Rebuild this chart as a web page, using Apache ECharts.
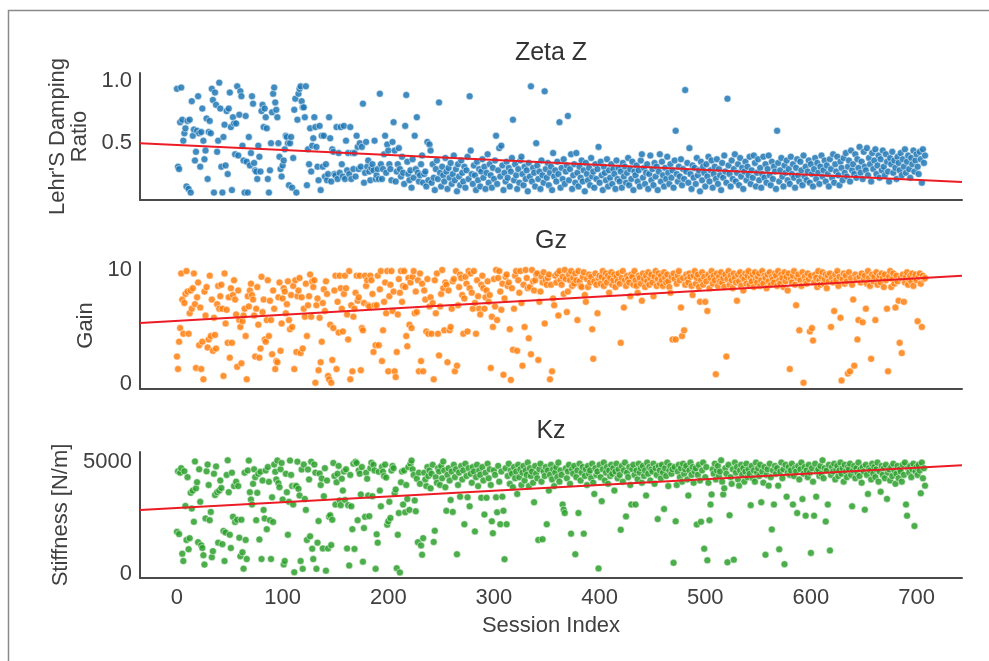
<!DOCTYPE html>
<html>
<head>
<meta charset="utf-8">
<title>Zeta Z / Gz / Kz</title>
<script src="https://cdn.jsdelivr.net/npm/echarts@6/dist/echarts.min.js"></script>
<style>
  html, body { margin: 0; padding: 0; background: #fff; }
  #chart { width: 989px; height: 661px; }
</style>
</head>
<body>
<div id="chart"></div>
<script>
// one value per session, the index in the array is the session index
const zetaValues = [
  .94,.31,.29,.67,.95,.69,.52,.58,.62,.15, .68,.13,.69,.10,.84,.56,.61,.36,.43,.60,
  .88,.58,.31,.59,.78,.52,.37,.44,.70,.21, .59,.68,.58,.94,.85,.10,.91,.81,.43,.52,
  .99,.78,.31,.10,.55,.65,.32,.76,.25,.78, .91,.63,.12,.71,.66,.41,.66,.96,.40,.73,
  .92,.88,.48,.36,.10,.72,.35,.10,.55,.32, .42,.88,.82,.34,.28,.27,.21,.48,.39,.27,
  .76,.81,.63,.78,.71,.62,.21,.10,.28,.50, .75,.90,.95,.83,.77,.71,.50,.39,.29,.23,
  .32,.36,.45,.56,.55,.50,.16,.50,.55,.14, .38,.77,.86,.10,.69,.90,.94,.96,.84,.79,
  .79,.71,.96,.16,.45,.33,.62,.27,.48,.54, .71,.63,.47,.31,.20,.64,.12,.56,.31,.56,
  .23,.33,.20,.25,.71,.54,.19,.45,.43,.25, .24,.63,.21,.42,.26,.63,.33,.23,.64,.21,
  .52,.28,.42,.25,.63,.21,.42,.29,.42,.23, .56,.47,.29,.50,.31,.47,.82,.18,.26,.51,
  .31,.36,.27,.20,.30,.33,.28,.52,.21,.24, .29,.21,.90,.33,.21,.29,.41,.56,.26,.49,
  .44,.33,.29,.20,.51,.67,.44,.19,.27,.33, .46,.29,.23,.39,.26,.17,.64,.89,.35,.25,
  .20,.28,.14,.37,.22,.56,.29,.71,.26,.19, .24,.33,.40,.18,.25,.27,.15,.51,.20,.49,
  .44,.18,.33,.22,.12,.29,.36,.21,.83,.26, .15,.31,.24,.19,.38,.27,.13,.30,.22,.34,
  .17,.25,.40,.20,.29,.11,.33,.23,.16,.36, .26,.19,.31,.14,.28,.39,.21,.88,.44,.25,
  .17,.32,.24,.12,.35,.20,.29,.15,.27,.37, .22,.31,.13,.26,.41,.18,.33,.24,.14,.30,
  .21,.36,.56,.17,.28,.46,.23,.48,.32,.12, .26,.19,.35,.22,.30,.15,.27,.38,.69,.20,
  .33,.24,.13,.29,.18,.36,.39,.25,.16,.31, .21,.28,.11,.34,.23,.96,.19,.30,.26,.15,
  .50,.32,.21,.27,.13,.36,.24,.18,.92,.29, .22,.34,.16,.26,.31,.12,.42,.23,.28,.19,
  .35,.25,.67,.14,.30,.21,.37,.17,.27,.32, .72,.20,.29,.41,.13,.24,.33,.18,.42,.26,
  .15,.31,.22,.36,.19,.28,.11,.34,.25,.20, .30,.16,.38,.23,.27,.14,.33,.21,.29,.47,
  .18,.35,.24,.12,.31,.26,.20,.37,.15,.28, .22,.33,.17,.29,.25,.13,.36,.21,.30,.19,
  .27,.14,.34,.23,.31,.18,.26,.38,.16,.29, .21,.35,.12,.27,.24,.32,.19,.28,.15,.36,
  .41,.22,.30,.17,.26,.33,.13,.25,.40,.20, .29,.16,.34,.23,.31,.12,.27,.41,.19,.35,
  .24,.15,.30,.21,.39,.26,.17,.33,.22,.28, .14,.36,.60,.25,.19,.31,.23,.37,.16,.29,
  .21,.93,.27,.34,.18,.46,.25,.13,.32,.22, .30,.17,.38,.24,.28,.11,.35,.20,.31,.26,
  .15,.33,.23,.39,.19,.28,.36,.14,.25,.31, .21,.37,.17,.29,.24,.12,.34,.22,.40,.27,
  .18,.86,.32,.25,.15,.36,.21,.29,.41,.19, .26,.33,.16,.38,.23,.30,.13,.27,.35,.20,
  .31,.24,.39,.17,.28,.22,.40,.34,.15,.26, .37,.20,.30,.14,.25,.39,.22,.33,.18,.29,
  .40,.24,.16,.35,.21,.31,.27,.13,.60,.34, .19,.28,.38,.23,.15,.32,.26,.36,.20,.29,
  .17,.39,.25,.33,.22,.14,.30,.37,.24,.19, .35,.28,.16,.40,.23,.31,.20,.27,.36,.18,
  .33,.25,.15,.29,.38,.21,.34,.26,.17,.31, .40,.23,.28,.36,.19,.32,.25,.15,.37,.29,
  .22,.41,.18,.33,.27,.39,.24,.16,.35,.30, .20,.38,.26,.42,.23,.31,.36,.19,.44,.28,
  .33,.25,.41,.22,.37,.30,.47,.26,.35,.21, .43,.31,.28,.46,.24,.38,.33,.19,.42,.29,
  .36,.45,.25,.32,.40,.22,.37,.28,.44,.31, .24,.41,.35,.27,.19,.38,.33,.43,.26,.36,
  .30,.21,.39,.34,.28,.42,.24,.37,.31,.45, .26,.35,.40,.29,.22,.38,.33,.44,.27,.36,
  .41,.31,.25,.43,.37,.18,.45,.34,.40
];

const gainValues = [
  2.4,1.3,3.7,4.9,9.7,7.4,4.4,7.1,7.9,9.9, 8.1,4.4,6.2,8.2,6.6,8.4,9.7,7.0,1.4,7.6,
  8.9,3.4,6.7,1.3,3.7,0.4,8.1,6.0,8.5,3.2, 3.9,9.5,4.2,7.4,2.9,5.8,4.3,3.1,7.0,8.6,
  6.6,7.7,8.7,6.6,0.7,9.7,5.3,6.5,3.6,7.6, 2.3,8.4,3.6,7.8,9.1,7.4,6.1,1.5,8.2,5.6,
  5.0,1.8,5.5,6.0,6.6,4.2,0.4,7.7,6.8,8.2, 8.8,7.8,7.4,6.0,2.4,6.6,8.5,5.2,2.3,3.1,
  9.4,6.3,7.4,3.9,3.7,5.6,9.1,4.2,7.3,5.6, 2.6,8.2,6.6,1.3,2.0,1.9,7.6,8.9,2.9,5.3,
  7.5,8.4,8.1,6.2,7.0,9.0,5.6,4.8,7.8,5.0, 8.6,1.3,9.1,2.8,7.7,8.2,9.3,2.7,7.6,3.1,
  6.6,5.9,8.8,4.2,6.9,7.7,9.6,5.9,9.0,8.5, 9.1,0.1,6.9,7.5,1.2,5.8,1.9,3.7,7.1,8.3,
  6.4,9.0,7.9,0.7,0.4,5.2,0.1,2.1,4.9,8.2, 9.5,1.3,7.2,4.5,9.5,8.4,6.6,4.6,7.9,9.5,
  8.4,6.1,3.9,9.9,0.4,6.9,1.1,5.9,6.6,8.0, 9.5,7.3,7.6,9.5,1.2,4.9,4.7,7.1,9.5,8.6,
  9.1,6.9,6.8,9.5,9.1,7.9,2.8,6.9,3.4,6.9, 9.5,3.4,8.3,9.9,2.0,4.7,7.2,8.9,6.2,9.9,
  1.1,7.7,8.7,9.9,6.4,8.1,1.1,0.6,2.8,6.1, 9.2,8.0,9.9,7.2,8.6,9.9,8.5,4.2,3.3,9.3,
  5.2,8.9,4.9,9.4,9.9,6.2,8.1,6.3,9.1,1.1, 9.7,2.0,8.8,1.1,8.2,7.4,4.6,9.2,4.4,6.8,
  7.6,4.4,7.1,0.4,9.1,6.2,9.7,4.4,2.5,6.8, 7.9,10.0,8.4,4.7,8.9,8.7,1.9,8.2,4.7,5.0,
  6.6,9.0,9.2,1.1,9.9,1.6,6.9,8.5,9.6,9.3, 7.8,4.4,7.5,9.4,8.8,4.6,9.9,8.4,9.7,8.0,
  6.6,9.9,7.1,4.4,9.1,7.7,6.6,6.1,8.7,9.5, 8.4,6.6,7.6,8.2,9.0,7.2,7.8,1.4,5.9,5.0,
  9.2,6.8,10.0,5.6,9.3,9.9,8.1,6.5,8.8,0.8, 7.5,9.4,9.6,8.6,8.9,4.8,0.35,8.4,3.0,6.6,
  9.5,9.9,2.9,9.1,8.0,9.9,7.1,1.6,8.7,5.0, 10.0,9.3,8.4,4.0,8.5,2.6,10.0,9.0,8.2,9.1,
  9.6,9.7,2.1,7.2,8.1,9.4,8.9,9.8,5.3,9.1, 8.7,9.3,9.6,0.4,8.7,1.1,7.5,6.9,9.5,8.9,
  9.7,6.0,9.9,9.1,8.7,9.4,7.9,10.0,9.2,6.3, 8.1,9.6,9.1,9.9,8.6,9.3,8.8,9.7,9.1,5.6,
  9.9,9.0,8.6,8.5,9.4,9.8,7.8,7.2,9.2,8.5, 9.6,8.9,9.4,4.8,2.2,9.0,9.7,8.7,6.2,9.3,
  9.5,8.8,9.4,9.9,8.6,9.2,9.7,8.9,9.5,8.0, 9.3,9.8,8.7,9.1,9.6,8.5,9.4,9.0,9.7,8.8,
  3.6,9.3,9.9,6.7,9.1,8.6,9.5,9.2,8.9,7.7, 9.6,9.4,8.7,9.9,9.1,8.6,8.0,9.5,9.3,8.8,
  7.3,9.7,9.2,8.5,9.5,9.0,9.8,8.7,9.3,9.6, 8.9,7.7,9.4,9.9,8.6,9.2,9.7,8.8,9.5,9.1,
  8.6,9.8,9.3,8.9,9.6,9.0,8.5,8.0,9.4,3.9, 9.7,9.2,3.9,8.8,9.5,9.9,9.1,6.7,4.2,9.3,
  4.7,8.7,9.6,9.2,8.9,9.7,9.4,8.6,7.8,9.5, 9.9,8.8,9.3,9.6,8.5,7.2,9.1,9.8,8.7,9.4,
  7.2,9.0,6.4,9.6,8.4,9.3,9.9,8.8,9.5,9.1, 0.85,9.7,8.6,9.4,9.0,9.8,8.9,9.3,8.5,9.6,
  2.4,9.2,9.9,8.7,9.5,9.1,8.4,9.7,9.3,8.9, 7.3,9.6,9.0,9.8,8.6,9.4,8.2,9.2,9.7,8.8,
  9.5,9.9,8.7,9.3,9.0,9.6,8.5,9.8,9.2,8.9, 9.4,9.7,8.6,9.1,9.9,8.8,9.5,9.3,8.4,9.6,
  9.0,9.8,8.7,9.4,9.2,8.9,9.7,9.5,8.6,9.9, 9.1,8.8,9.6,9.3,8.5,9.8,9.0,9.4,8.2,9.7,
  1.3,9.2,8.9,9.5,9.9,8.7,6.9,9.3,9.6,4.7, 9.1,8.6,9.8,0.1,9.4,9.0,8.8,9.7,9.2,4.6,
  9.5,4.9,3.8,8.9,9.6,9.3,8.5,9.9,9.1,8.7, 9.4,9.8,8.8,9.2,9.6,8.4,9.5,9.0,9.7,5.0,
  9.3,8.9,6.4,9.6,9.1,9.9,8.6,9.4,5.8,0.3, 9.2,9.7,8.8,9.5,9.0,0.9,9.8,1.1,9.3,8.7,
  7.4,1.6,9.6,9.2,3.9,5.6,9.4,8.9,9.7,5.4, 9.1,9.5,6.6,8.8,9.9,9.3,8.6,2.2,9.6,9.0,
  9.4,5.6,9.8,8.7,9.2,9.5,8.9,9.7,9.3,8.5, 9.6,9.1,6.6,1.1,9.4,9.9,8.5,9.2,9.7,8.8,
  6.7,9.5,9.0,7.3,3.6,9.3,2.7,9.6,7.2,8.9, 9.4,9.8,8.7,9.2,9.5,9.0,9.7,8.6,9.3,9.6,
  9.1,5.5,9.4,9.7,8.8,5.0,9.5,9.2,9.3
];

const stiffnessValues = [
  1860,4560,1760,4500,4700,887,560,4563,3018,1500, 4300,1085,1577,3600,2900,3700,2310,5000,3800,4074,
  1400,4650,3200,1260,1140,820,400,2460,4560,4860, 3950,2380,2750,730,1000,4450,3500,4780,3630,1380,
  3700,4150,3820,1310,1900,560,1830,4400,5050,3630, 1730,1140,4500,2530,3900,2300,4100,2400,3900,1600,
  770,2400,950,220,4500,1500,650,4600,5040,3630, 3300,3080,4000,4650,4300,2380,3600,4450,1520,4540,
  650,4150,2840,2460,4600,1980,4750,4090,2380,650, 3400,2300,4860,4540,4200,5040,4030,3850,4650,4930,
  3300,410,560,4450,3630,1730,3200,5040,4400,3900, 3080,60,3900,3900,4990,3780,3480,560,4640,210,
  4860,3330,2840,1500,4640,4200,1660,4990,1110,650, 4860,4500,210,1380,2340,4460,3950,4240,1120,3450,
  4700,130,4150,1120,2530,2600,1270,2400,4930,4350, 3080,4070,4450,4800,3260,3050,4230,3700,4550,3280,
  4650,1120,3050,360,4400,3000,1980,4900,1100,4990, 4930,2380,4600,4450,3530,4750,530,2030,2530,4500,
  4230,3480,2560,4700,4940,3450,4850,4600,210,1750, 1380,4540,3700,3000,4760,4540,4350,4860,4280,2180,
  2330,3200,2480,4600,4800,4700,3580,3750,240,1730, 2700,50,4070,4550,3080,4600,2730,3950,3330,4750,
  2840,4900,5040,4650,4400,3260,2780,4230,1400,4500, 4000,1250,840,1580,4500,4200,3900,4750,4350,4600,
  3800,4450,4850,1410,1910,4300,4050,4700,4550,3950, 4800,4250,5000,4600,3850,2800,4400,4700,4150,3280,
  4550,2750,4850,4300,4650,860,3950,4500,3430,4800, 4200,4600,2200,4900,4350,3400,4700,3000,4450,4050,
  4750,4550,1880,4300,4850,3900,4600,4400,3380,4750, 4150,2630,4500,3380,4900,4250,4650,3950,2330,1800,
  4600,4400,3400,2730,4800,4100,2200,4550,3430,2800, 640,4700,2200,4350,4900,4000,4600,4450,3850,4750,
  4250,4550,3550,4850,4300,4650,3950,4500,4800,4150, 4600,4400,4950,3900,4700,4350,4550,4050,3180,4800,
  4450,4250,1500,4650,4900,4100,1530,4550,4350,4750, 2200,4600,3700,4400,4850,4200,4650,3900,4500,4750,
  4300,4950,4100,4600,4400,3080,2850,2700,4700,4250, 4550,4850,4000,1780,4650,4450,4800,860,4300,4600,
  2700,4900,4150,4500,4750,1780,4350,4650,3950,4800, 4450,4600,4250,4900,4050,3550,4700,4400,4550,230,
  4850,4300,3230,4650,4950,4150,4500,4750,4000,4600, 4350,4850,4450,4700,3700,4550,4900,4250,4650,4400,
  1950,4800,4100,4600,4950,2550,4500,4300,4750,3950, 3080,4650,4850,4400,3080,4600,4200,4900,4500,4700,
  4050,4800,4350,4600,3480,4950,4450,4750,4150,4650, 4550,4900,4000,4700,4400,2430,4800,4600,4250,4850,
  4500,2880,4700,4350,4950,3900,4600,4800,4450,4650, 480,4750,2330,3950,4550,4850,4300,4700,4100,4900,
  4450,4650,4800,4200,3480,4600,4950,4400,4750,4050, 4550,4700,2190,4400,4850,4150,2310,4600,4950,1110,
  4300,4750,590,4050,2380,3080,3530,4650,4450,4900, 4200,4600,4800,4350,4550,5050,4100,3530,3800,4700,
  4450,500,4850,2600,4300,4000,4650,620,4950,4500, 4750,4200,3920,4600,4850,4400,4700,4100,4550,4900,
  4300,4650,4450,3050,4800,4250,4600,4100,4950,4500, 4700,4350,4850,3180,4550,4050,4750,840,4400,4650,
  3920,4900,4300,1970,4600,3080,4800,4450,4700,3920, 1080,4550,4950,4250,4650,420,4850,3430,4500,4750,
  4400,4600,4900,3080,4350,4700,4550,2700,4800,4200, 4650,4950,3320,4450,4750,2580,4600,4300,4850,4500,
  920,4700,4100,2580,4900,3430,4550,4650,4350,4800, 4450,5050,4250,4700,2320,4600,3080,4850,1030,4400,
  4750,4550,4900,4200,4650,4800,4350,4600,4950,4450, 4700,4100,4850,4550,4300,4750,4650,4900,4400,3000,
  4600,4800,4250,4700,4500,4950,4350,4650,4050,4750, 4550,2850,4850,4400,3550,4700,4600,4200,4900,4450,
  4750,4300,4650,4950,4100,4550,3650,4800,4400,4700, 4250,4850,3330,4500,4650,4150,4750,4350,4900,4600,
  4000,4450,4800,4250,4650,4550,4100,4850,4400,4950, 3080,2580,4700,4500,4800,4300,4650,4900,2120,4550,
  4750,4400,4850,4600,3580,4950,4250,4700,3920
];

// regression lines, read where they meet the left and right edge of each plot
const trendSessions = [-35, 743];
const zetaTrend = [0.50, 0.186];
const gainTrend = [5.35, 9.5];
const stiffnessTrend = [2838, 4833];

// tick labels that are printed
const sessionTicks = [0, 100, 200, 300, 400, 500, 600, 700];
const zetaTicks = [0.5, 1.0];
const gainTicks = [0, 10];
const stiffnessTicks = [0, 5000];

const FONT = 'Liberation Sans, Arial, sans-serif';
const TEXT = '#404040';
const SPINE = '#4a4a4a';

const toPoints = vals => vals.map((v, i) => [i, v]);
const trendPoints = ys => trendSessions.map((x, i) => [x, ys[i]]);
const onlyTicks = (ticks, digits) => v =>
  ticks.some(t => Math.abs(t - v) < 1e-6) ? v.toFixed(digits) : '';

const gridTops = [73, 262, 452];
const gridHeights = [127, 127, 126];

function xAxisFor(idx) {
  return {
    type: 'value', gridIndex: idx, min: -35, max: 743, splitNumber: 8,
    splitLine: { show: false }, axisTick: { show: false },
    axisLine: { onZero: false, lineStyle: { color: SPINE, width: 2 } },
    axisLabel: {
      show: idx === 2, margin: 9, fontSize: 22, color: TEXT, fontFamily: FONT,
      formatter: onlyTicks(sessionTicks, 0)
    },
    name: idx === 2 ? 'Session Index' : '', nameLocation: 'middle', nameGap: 37,
    nameTextStyle: { fontSize: 22, color: TEXT, fontFamily: FONT }
  };
}

function yAxisFor(idx, min, max, split, ticks, digits, name, gap) {
  return {
    type: 'value', gridIndex: idx, min: min, max: max, splitNumber: split,
    splitLine: { show: false }, axisTick: { show: false },
    axisLine: { show: true, onZero: false, lineStyle: { color: SPINE, width: 2 } },
    axisLabel: {
      margin: 8, fontSize: 22, color: TEXT, fontFamily: FONT,
      formatter: onlyTicks(ticks, digits)
    },
    name: name, nameLocation: 'middle', nameRotate: 90, nameGap: gap,
    nameTextStyle: { fontSize: 22, color: TEXT, fontFamily: FONT, lineHeight: 22 }
  };
}

function dots(idx, vals, color) {
  return {
    type: 'scatter', xAxisIndex: idx, yAxisIndex: idx, data: toPoints(vals),
    symbolSize: 7,
    itemStyle: { color: color, opacity: 0.85, borderColor: '#ffffff', borderWidth: 0.6 },
    z: 2
  };
}

function trend(idx, ys) {
  return {
    type: 'line', xAxisIndex: idx, yAxisIndex: idx, data: trendPoints(ys),
    showSymbol: false, symbol: 'none',
    lineStyle: { color: '#ec1c24', width: 2 }, z: 5, silent: true
  };
}

function heading(text, y) {
  return {
    type: 'text', x: 551, y: y, silent: true,
    style: { text: text, fontSize: 25, fill: '#333', fontFamily: FONT, align: 'center', verticalAlign: 'middle' }
  };
}

const chart = echarts.init(document.getElementById('chart'), null, { renderer: 'canvas' });
chart.setOption({
  animation: false,
  backgroundColor: '#ffffff',
  grid: gridTops.map((top, i) => ({ left: 140, right: 27, top: top, height: gridHeights[i] })),
  xAxis: [xAxisFor(0), xAxisFor(1), xAxisFor(2)],
  yAxis: [
    yAxisFor(0, 0.04, 1.068, 2, zetaTicks, 1, "Lehr'S Damping\nRatio", 46),
    yAxisFor(1, -0.45, 10.7, 1, gainTicks, 0, 'Gain', 40),
    yAxisFor(2, -197, 5421, 1, stiffnessTicks, 0, 'Stiffness [N/m]', 40)
  ],
  series: [
    dots(0, zetaValues, '#1f77b4'),
    dots(1, gainValues, '#ff7f0e'),
    dots(2, stiffnessValues, '#2ca02c'),
    trend(0, zetaTrend),
    trend(1, gainTrend),
    trend(2, stiffnessTrend)
  ],
  graphic: [
    {
      type: 'rect', silent: true,
      shape: { x: 8.5, y: 10.5, width: 1200, height: 900 },
      style: { fill: 'none', stroke: '#8a8a8a', lineWidth: 1.5 }
    },
    heading('Zeta Z', 53),
    heading('Gz', 241),
    heading('Kz', 431)
  ]
});
</script>
</body>
</html>
